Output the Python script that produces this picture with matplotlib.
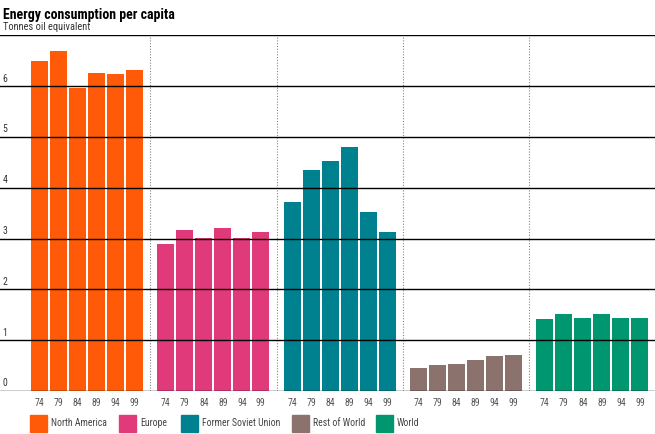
import matplotlib
matplotlib.use('Agg')
import matplotlib.pyplot as plt
from matplotlib.patches import Rectangle

plt.rcParams['font.family'] = ['Roboto Condensed', 'DejaVu Sans']

# Data
regions = ['North America', 'Europe', 'Former Soviet Union', 'Rest of World', 'World']
years = ['74', '79', '84', '89', '94', '99']
north_america = [6.50, 6.69, 5.96, 6.26, 6.24, 6.32]
europe = [2.89, 3.17, 3.01, 3.21, 3.01, 3.13]
former_soviet = [3.72, 4.35, 4.53, 4.80, 3.52, 3.13]
rest_of_world = [0.45, 0.51, 0.53, 0.61, 0.69, 0.71]
world = [1.42, 1.52, 1.44, 1.52, 1.44, 1.44]
y_ticks = [0, 1, 2, 3, 4, 5, 6]

series = [north_america, europe, former_soviet, rest_of_world, world]
colors = ['#ff5a08', '#e03a7a', '#00818f', '#8b726c', '#00966f']

W, H = 655, 434
fig = plt.figure(figsize=(W / 100, H / 100), dpi=100)

# main axes: pixel rows 35..391 map to 7..0
ax = fig.add_axes([0, (H - 391) / H, 1, (391 - 35.4) / H])
gw = 6.65  # group spacing in bar slots
ax.set_xlim(-39.5 / 19, (W - 39.5) / 19)
ax.set_ylim(0, 7)
ax.axis('off')

for g, (vals, c) in enumerate(zip(series, colors)):
    xs = [g * gw + i for i in range(len(vals))]
    ax.bar(xs, vals, width=0.89, color=c, zorder=2)
    for x, yr in zip(xs, years):
        ax.text(x, -0.24, yr, ha='center', va='center', fontsize=7, color='#555555')
    if g < len(series) - 1:
        ax.plot([g * gw + 5.825] * 2, [0, 7], color='#888888', lw=0.8,
                ls=(0, (1, 1.5)), zorder=1)

for t in y_ticks + [7]:
    ax.axhline(t, color='black', lw=1, zorder=3)
for t in y_ticks:
    ax.text(-1.95, t + 0.15, str(t), ha='left', va='center', fontsize=7, color='#333333')

fig.text(3 / W, 1 - 15 / H, 'Energy consumption per capita', fontsize=10,
         fontweight='bold', ha='left', va='center', color='black')
fig.text(3 / W, 1 - 27.5 / H, 'Tonnes oil equivalent', fontsize=7.5,
         ha='left', va='center', color='#333333')

# legend drawn in figure pixels
lax = fig.add_axes([0, 0, 1, 1])
lax.set_xlim(0, W)
lax.set_ylim(H, 0)
lax.axis('off')
leg_x = [30, 119, 181, 292, 376]
for lx, name, c in zip(leg_x, regions, colors):
    lax.add_patch(Rectangle((lx, 415), 17, 17, color=c))
    lax.text(lx + 21, 423.5, name, ha='left', va='center', fontsize=7, color='#444444')

fig.savefig('out.png', dpi=100)
